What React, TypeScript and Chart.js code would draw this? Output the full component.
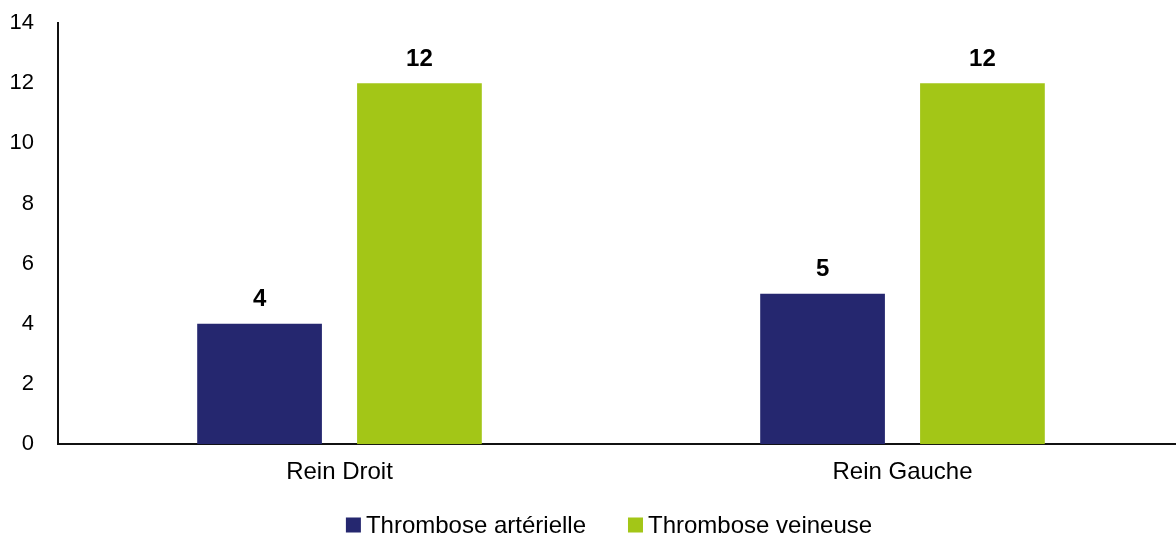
import React, { useEffect, useRef } from "react";
import { Chart, registerables } from "chart.js";

Chart.register(...registerables);

const categories = ["Rein Droit", "Rein Gauche"];
const arterielle = [4, 5];
const veineuse = [12, 12];
const seriesNames = ["Thrombose artérielle", "Thrombose veineuse"];
const seriesColors = ["#25276F", "#A3C617"];

const FONT = "'Liberation Sans', Arial, sans-serif";

const valueLabels = {
  id: "valueLabels",
  afterDatasetsDraw(chart: any) {
    const ctx = chart.ctx;
    ctx.save();
    ctx.font = `bold 24px ${FONT}`;
    ctx.fillStyle = "#000";
    ctx.textAlign = "center";
    ctx.textBaseline = "middle";
    chart.data.datasets.forEach((ds: any, i: number) => {
      const meta = chart.getDatasetMeta(i);
      meta.data.forEach((bar: any, j: number) => {
        ctx.fillText(String(ds.data[j]), bar.x, bar.y - 24);
      });
    });
    ctx.restore();
  },
};

const bottomLegend = {
  id: "bottomLegend",
  afterDraw(chart: any) {
    const ctx = chart.ctx;
    ctx.save();
    ctx.font = `24px ${FONT}`;
    ctx.textBaseline = "middle";
    const box = 15;
    const gap = 5;
    const itemGap = 42;
    const widths = seriesNames.map((n) => box + gap + ctx.measureText(n).width);
    const total = widths.reduce((a, b) => a + b, 0) + itemGap * (widths.length - 1);
    let x = chart.width / 2 + 17 - total / 2;
    const y = 525;
    seriesNames.forEach((n, i) => {
      ctx.fillStyle = seriesColors[i];
      ctx.fillRect(x, y - box / 2, box, box);
      ctx.fillStyle = "#000";
      ctx.textAlign = "left";
      ctx.fillText(n, x + box + gap, y + 1);
      x += widths[i] + itemGap;
    });
    ctx.restore();
  },
};

export default function App() {
  const ref = useRef<HTMLCanvasElement>(null);
  useEffect(() => {
    const chart = new Chart(ref.current!, {
      type: "bar",
      data: {
        labels: categories,
        datasets: [
          { label: seriesNames[0], data: arterielle, backgroundColor: seriesColors[0] },
          { label: seriesNames[1], data: veineuse, backgroundColor: seriesColors[1] },
        ],
      },
      options: {
        responsive: false,
        animation: false,
        layout: { padding: { top: 0, right: 0, bottom: 32, left: 0 } },
        datasets: { bar: { categoryPercentage: 0.568, barPercentage: 0.78 } },
        plugins: { legend: { display: false }, tooltip: { enabled: false } },
        scales: {
          x: {
            grid: { display: false, drawTicks: false },
            border: { display: true, color: "#111", width: 2 },
            ticks: { color: "#000", font: { family: FONT, size: 24 }, padding: 14 },
          },
          y: {
            min: 0,
            max: 14,
            grid: { display: false, drawTicks: false },
            border: { display: true, color: "#111", width: 2 },
            ticks: { stepSize: 2, color: "#000", font: { family: FONT, size: 22 }, padding: 24 },
            afterFit(scale: any) {
              scale.width = 58;
              scale.paddingTop = 23;
              scale.paddingBottom = 14;
            },
          },
        },
      },
      plugins: [valueLabels, bottomLegend],
    });
    return () => chart.destroy();
  }, []);
  return (
    <div style={{ position: "fixed", left: 0, top: 0, width: 1176, height: 533, overflow: "hidden", background: "#fff" }}>
      <canvas ref={ref} width={1184} height={533} style={{ display: "block" }} />
    </div>
  );
}
